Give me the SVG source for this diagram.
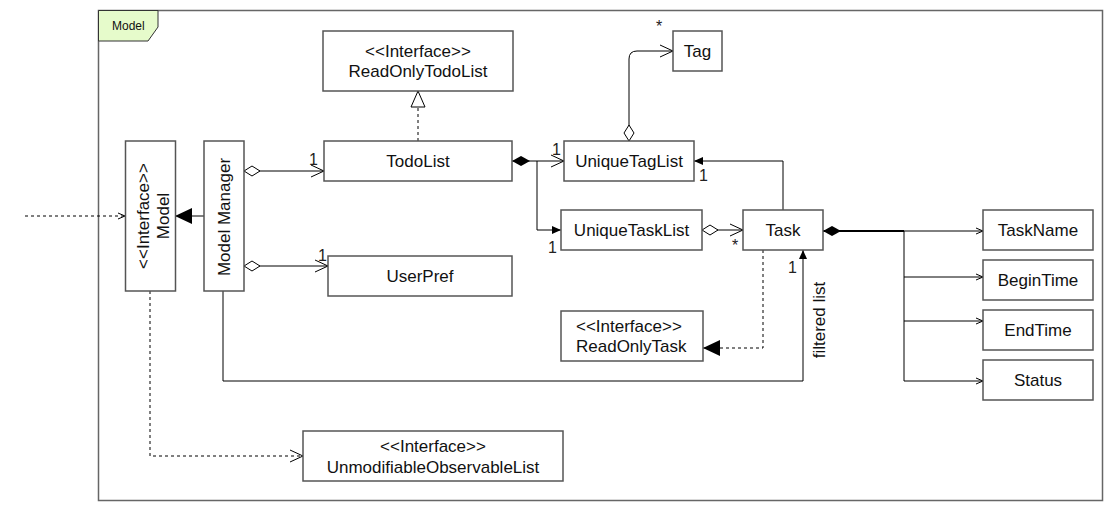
<svg xmlns="http://www.w3.org/2000/svg" width="1111" height="512" viewBox="0 0 1111 512">
<style>
.box{fill:#fff;stroke:#555;stroke-width:1.5}
.t{font-family:"Liberation Sans",Arial,sans-serif;font-size:17px;fill:#111;text-anchor:middle;dominant-baseline:central}
.lbl{font-family:"Liberation Sans",Arial,sans-serif;font-size:16px;fill:#222}
.c{fill:none;stroke:#000;stroke-width:1}
.d{stroke-dasharray:3,3}
</style>
<defs>
<marker id="chev" markerUnits="userSpaceOnUse" markerWidth="16" markerHeight="16" viewBox="-14 -8 16 16" refX="0" refY="0" orient="auto"><path d="M-13,-6 L0,0 L-13,6" fill="none" stroke="#000" stroke-width="1"/></marker>
<marker id="small" markerUnits="userSpaceOnUse" markerWidth="10" markerHeight="10" viewBox="-8 -5 10 10" refX="0" refY="0" orient="auto"><path d="M-7,-3 L0,0 L-7,3" fill="none" stroke="#000" stroke-width="1"/></marker>
<marker id="sfill" markerUnits="userSpaceOnUse" markerWidth="12" markerHeight="12" viewBox="-10 -6 12 12" refX="0" refY="0" orient="auto"><path d="M-9,-4 L0,0 L-9,4 Z" fill="#000"/></marker>
<marker id="tri" markerUnits="userSpaceOnUse" markerWidth="20" markerHeight="20" viewBox="-18 -10 20 20" refX="0" refY="0" orient="auto"><path d="M-17,-8 L0,0 L-17,8 Z" fill="#000"/></marker>
<marker id="htri" markerUnits="userSpaceOnUse" markerWidth="20" markerHeight="20" viewBox="-18 -10 20 20" refX="0" refY="0" orient="auto"><path d="M-16,-7 L0,0 L-16,7 Z" fill="#fff" stroke="#000" stroke-width="1"/></marker>
<marker id="hdia" markerUnits="userSpaceOnUse" markerWidth="20" markerHeight="12" viewBox="-1 -6 20 12" refX="0" refY="0" orient="auto"><path d="M0,0 L8,-5 L16,0 L8,5 Z" fill="#fff" stroke="#000" stroke-width="1"/></marker>
<marker id="fdia" markerUnits="userSpaceOnUse" markerWidth="20" markerHeight="12" viewBox="-1 -6 20 12" refX="0" refY="0" orient="auto"><path d="M0,0 L9,-5 L18,0 L9,5 Z" fill="#000"/></marker>
</defs>
<rect width="1111" height="512" fill="#fff"/>
<g id="frame">
<rect x="98.5" y="10.5" width="1004" height="490" fill="none" stroke="#666" stroke-width="1.5"/>
<path d="M98.5,10.5 H158 V27 L148,41 H98.5 Z" fill="#e6fbcb" stroke="#333" stroke-width="1"/>
<text x="112" y="26" font-family="Liberation Sans,Arial,sans-serif" font-size="12" fill="#111" dominant-baseline="central">Model</text>
</g>
<g id="connectors">
<path class="c d" d="M25,216 H125" marker-end="url(#small)"/>
<path class="c" d="M204,216 H175" marker-end="url(#tri)"/>
<path class="c" d="M244,171 H324" marker-start="url(#hdia)" marker-end="url(#chev)"/>
<path class="c" d="M244,266 H328" marker-start="url(#hdia)" marker-end="url(#chev)"/>
<path class="c d" d="M418,141 V91" marker-end="url(#htri)"/>
<path class="c" d="M512,161 H564" marker-start="url(#fdia)" marker-end="url(#chev)"/>
<path class="c" d="M537,161 V230 H561" marker-end="url(#sfill)"/>
<path class="c" d="M629,141 V59 Q629,51 637,51 H673" marker-start="url(#hdia)" marker-end="url(#chev)"/>
<path class="c" d="M702,230 H743" marker-start="url(#hdia)" marker-end="url(#chev)"/>
<path class="c" d="M783,210 V161 H694" marker-end="url(#sfill)"/>
<path class="c d" d="M763,250 V348 H703" marker-end="url(#tri)"/>
<path class="c" d="M223,291 V381 H803 V250" marker-end="url(#sfill)"/>
<path class="c d" d="M150,291 V456 H303" marker-end="url(#chev)"/>
<path d="M823,231 H904" fill="none" stroke="#000" stroke-width="2" marker-start="url(#fdia)"/>
<path class="c" d="M904,231 H983" marker-end="url(#small)"/>
<path class="c" d="M904,231 V381"/>
<path class="c" d="M904,277 H983" marker-end="url(#small)"/>
<path class="c" d="M904,321 H983" marker-end="url(#small)"/>
<path class="c" d="M904,381 H983" marker-end="url(#small)"/>
<text class="lbl" x="309" y="165">1</text>
<text class="lbl" x="318" y="261">1</text>
<text class="lbl" x="552" y="155">1</text>
<text class="lbl" x="548" y="253">1</text>
<text class="lbl" x="656" y="32" font-size="13">*</text>
<text class="lbl" x="732" y="251" font-size="13">*</text>
<text class="lbl" x="699" y="181">1</text>
<text class="lbl" x="788" y="273">1</text>
<text class="t" x="819" y="320" transform="rotate(-90 819 320)">filtered list</text>
</g>
<g id="model"><rect class="box" x="125.5" y="141" width="50" height="150"/>
<text class="t" transform="rotate(-90 143 216)" x="143" y="216">&lt;&lt;Interface&gt;&gt;</text>
<text class="t" transform="rotate(-90 163 216)" x="163" y="216">Model</text></g>
<g id="modelmanager"><rect class="box" x="204" y="141" width="40" height="150"/>
<text class="t" transform="rotate(-90 224 217)" x="224" y="217">Model Manager</text></g>
<g id="readonlytodolist"><rect class="box" x="323" y="31" width="190" height="60"/>
<text class="t" x="418" y="51">&lt;&lt;Interface&gt;&gt;</text><text class="t" x="418" y="71">ReadOnlyTodoList</text></g>
<g id="todolist"><rect class="box" x="324" y="141" width="188" height="40"/><text class="t" x="418" y="161">TodoList</text></g>
<g id="userpref"><rect class="box" x="328" y="256" width="184" height="40"/><text class="t" x="420" y="276">UserPref</text></g>
<g id="tag"><rect class="box" x="673" y="31" width="49" height="40"/><text class="t" x="697.5" y="51">Tag</text></g>
<g id="uniquetaglist"><rect class="box" x="564" y="141" width="130" height="40"/><text class="t" x="629" y="161">UniqueTagList</text></g>
<g id="uniquetasklist"><rect class="box" x="561" y="210" width="141" height="40"/><text class="t" x="631.5" y="230">UniqueTaskList</text></g>
<g id="task"><rect class="box" x="743" y="210" width="80" height="40"/><text class="t" x="783" y="230">Task</text></g>
<g id="readonlytask"><rect class="box" x="561" y="311" width="142" height="50"/>
<text class="t" x="576" y="326" style="text-anchor:start">&lt;&lt;Interface&gt;&gt;</text><text class="t" x="576" y="346" style="text-anchor:start">ReadOnlyTask</text></g>
<g id="unmodifiable"><rect class="box" x="303" y="431" width="260" height="50"/>
<text class="t" x="433" y="446">&lt;&lt;Interface&gt;&gt;</text><text class="t" x="433" y="467">UnmodifiableObservableList</text></g>
<g id="taskname"><rect class="box" x="983" y="210" width="110" height="40"/><text class="t" x="1038" y="230">TaskName</text></g>
<g id="begintime"><rect class="box" x="983" y="260" width="110" height="40"/><text class="t" x="1038" y="280">BeginTime</text></g>
<g id="endtime"><rect class="box" x="983" y="310" width="110" height="40"/><text class="t" x="1038" y="330">EndTime</text></g>
<g id="status"><rect class="box" x="983" y="360" width="110" height="40"/><text class="t" x="1038" y="380">Status</text></g>
</svg>
